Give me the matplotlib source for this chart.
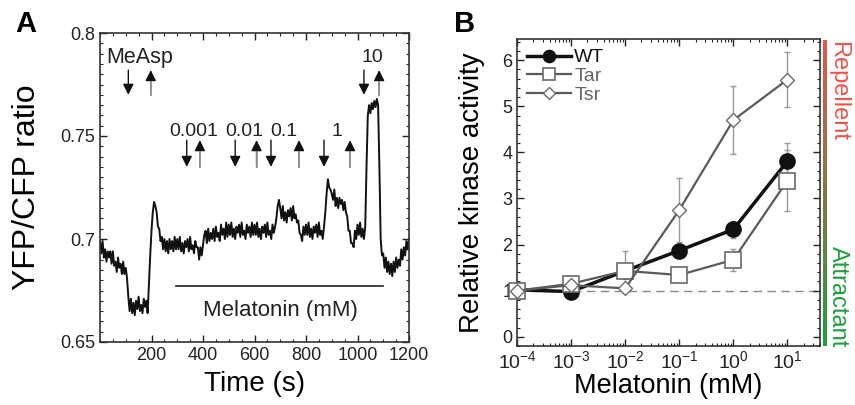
import numpy as np
import matplotlib
matplotlib.use('Agg')
import matplotlib.pyplot as plt
from matplotlib.ticker import MultipleLocator, LogLocator, NullFormatter
from matplotlib.colors import LinearSegmentedColormap

plt.rcParams['font.family'] = ['Liberation Sans', 'DejaVu Sans']
plt.rcParams['mathtext.fontset'] = 'custom'
plt.rcParams['mathtext.rm'] = 'Liberation Sans'
plt.rcParams['mathtext.it'] = 'Liberation Sans:italic'

# ---- panel A: FRET trace, one reading every 5 s ----
time_s = np.arange(0, 1201, 5)
ratio = [
    0.699, 0.693, 0.699, 0.691, 0.695, 0.689, 0.694, 0.691, 0.694, 0.688,
    0.694, 0.687, 0.689, 0.684, 0.691, 0.686, 0.688, 0.683, 0.689, 0.683,
    0.686, 0.681, 0.672, 0.665, 0.671, 0.664, 0.669, 0.663, 0.670, 0.666,
    0.672, 0.665, 0.668, 0.664, 0.671, 0.667, 0.670, 0.664, 0.678, 0.692,
    0.704, 0.713, 0.718, 0.716, 0.713, 0.706, 0.705, 0.699, 0.701, 0.695,
    0.700, 0.694, 0.699, 0.693, 0.700, 0.695, 0.699, 0.694, 0.701, 0.695,
    0.700, 0.695, 0.701, 0.694, 0.698, 0.693, 0.699, 0.696, 0.700, 0.694,
    0.701, 0.695, 0.697, 0.693, 0.699, 0.696, 0.696, 0.690, 0.696, 0.692,
    0.697, 0.702, 0.704, 0.698, 0.705, 0.699, 0.703, 0.700, 0.705, 0.699,
    0.706, 0.701, 0.703, 0.699, 0.707, 0.702, 0.705, 0.700, 0.708, 0.701,
    0.707, 0.702, 0.708, 0.701, 0.705, 0.700, 0.706, 0.703, 0.707, 0.701,
    0.708, 0.702, 0.704, 0.700, 0.707, 0.703, 0.706, 0.701, 0.708, 0.702,
    0.707, 0.702, 0.708, 0.701, 0.705, 0.700, 0.706, 0.703, 0.707, 0.701,
    0.708, 0.702, 0.704, 0.700, 0.707, 0.703, 0.706, 0.710, 0.716, 0.719,
    0.715, 0.710, 0.716, 0.709, 0.713, 0.708, 0.714, 0.711, 0.715, 0.709,
    0.716, 0.710, 0.712, 0.708, 0.709, 0.703, 0.702, 0.699, 0.706, 0.702,
    0.707, 0.702, 0.708, 0.701, 0.705, 0.700, 0.706, 0.703, 0.707, 0.701,
    0.708, 0.702, 0.704, 0.700, 0.706, 0.713, 0.722, 0.729, 0.725, 0.724,
    0.722, 0.719, 0.724, 0.716, 0.720, 0.715, 0.720, 0.717, 0.719, 0.714,
    0.718, 0.713, 0.711, 0.704, 0.704, 0.698, 0.698, 0.696, 0.704, 0.700,
    0.707, 0.702, 0.708, 0.701, 0.705, 0.700, 0.706, 0.735, 0.760, 0.765,
    0.761, 0.766, 0.763, 0.767, 0.764, 0.768, 0.765, 0.735, 0.700, 0.692,
    0.693, 0.686, 0.691, 0.684, 0.689, 0.683, 0.688, 0.682, 0.689, 0.684,
    0.691, 0.686, 0.690, 0.687, 0.695, 0.690, 0.696, 0.692, 0.699, 0.695,
    0.700,
]

# stimulus additions (down) and removals (up)
add_times = [110, 337, 525, 664, 870, 1025]
remove_times = [197, 388, 608, 773, 971, 1084]
dose_labels = ['MeAsp', '0.001', '0.01', '0.1', '1', '10']
dose_label_times = [155, 362, 561, 714, 922, 1059]

# ---- panel B: dose response ----
conc = [1e-4, 1e-3, 1e-2, 1e-1, 1, 10]
wt = [1.02, 0.98, 1.43, 1.87, 2.33, 3.81]
wt_err = [0, 0.04, 0.1, 0.1, 0.19, 0.39]
tar = [1.0, 1.15, 1.43, 1.34, 1.67, 3.39]
tar_err = [0, 0.05, 0.43, 0.13, 0.24, 0.67]
tsr = [1.0, 1.12, 1.05, 2.75, 4.70, 5.58]
tsr_err = [0, 0.05, 0.05, 0.69, 0.74, 0.60]

fig = plt.figure(figsize=(8.55, 4.05), dpi=100)
W, H = 855.0, 405.0

# ================= panel A =================
axA = fig.add_axes([100 / W, (H - 342) / H, 309 / W, 309 / H])
axA.plot(time_s, ratio, color='#111111', lw=1.4)
axA.set_xlim(0, 1200)
axA.set_ylim(0.65, 0.8)
axA.set_xticks([200, 400, 600, 800, 1000, 1200])
axA.xaxis.set_minor_locator(MultipleLocator(50))
axA.set_yticks([0.65, 0.7, 0.75, 0.8])
axA.set_yticklabels(['0.65', '0.7', '0.75', '0.8'])
axA.yaxis.set_minor_locator(MultipleLocator(0.005))
axA.set_xlabel('Time (s)', fontsize=20, labelpad=5)
axA.set_ylabel('YFP/CFP ratio', fontsize=23, labelpad=13)

for i in range(len(add_times)):
    if dose_labels[i] in ('MeAsp', '10'):
        hi, lo = 0.782, 0.770
        ly = 0.788
    else:
        hi, lo = 0.748, 0.735
        ly = 0.752
    # addition: black arrow pointing down
    axA.annotate('', xy=(add_times[i], lo), xytext=(add_times[i], hi),
                 arrowprops=dict(arrowstyle='-|>', fc='#111111', ec='#111111',
                                 lw=1.0, mutation_scale=16, shrinkA=0, shrinkB=0))
    # removal: grey shaft, black head pointing up
    axA.annotate('', xy=(remove_times[i], hi), xytext=(remove_times[i], lo),
                 arrowprops=dict(arrowstyle='-|>', fc='#111111', ec='#111111',
                                 lw=1.0, mutation_scale=16, shrinkA=0, shrinkB=0))
    axA.plot([remove_times[i], remove_times[i]], [lo, hi - 0.006],
             color='#999999', lw=1.3, zorder=5)
    fs = 15.5 if dose_labels[i] == 'MeAsp' else 14
    axA.text(dose_label_times[i], ly, dose_labels[i], ha='center', va='center',
             fontsize=fs, color='#222222')

axA.plot([294, 1100], [0.677, 0.677], color='#222222', lw=1.2)
axA.text(700, 0.6655, 'Melatonin (mM)', ha='center', va='center', fontsize=16,
         color='#222222')

# ================= panel B =================
axB = fig.add_axes([517 / W, (H - 346) / H, 303 / W, 307 / H])
axB.axhline(1, color='#888888', ls=(0, (6, 4)), lw=1, zorder=1)
axB.errorbar(conc, tsr, yerr=tsr_err, fmt='none', ecolor='#9a9a9a',
             elinewidth=1, capsize=2, zorder=2)
axB.errorbar(conc, tar, yerr=tar_err, fmt='none', ecolor='#9a9a9a',
             elinewidth=1, capsize=2, zorder=2)
axB.errorbar(conc, wt, yerr=wt_err, fmt='none', ecolor='#9a9a9a',
             elinewidth=1, capsize=2, zorder=2)
axB.plot(conc, wt, '-o', color='#111111', lw=2.5, ms=11, label='WT',
         zorder=4, clip_on=False)
axB.plot(conc, tar, '-s', color='#5a5a5a', mfc='white', mec='#6a6a6a', mew=1.2,
         lw=1.6, ms=11, label='Tar', zorder=5, clip_on=False)
axB.plot(conc, tsr, '-D', color='#5a5a5a', mfc='white', mec='#6a6a6a', mew=1.0,
         lw=1.6, ms=7.5, label='Tsr', zorder=6, clip_on=False)

axB.set_xscale('log')
axB.set_xlim(1e-4, 40)
axB.set_ylim(-0.2, 6.46)
axB.set_xticks([1e-4, 1e-3, 1e-2, 1e-1, 1, 10])
axB.set_xticklabels([r'$10^{-4}$', r'$10^{-3}$', r'$10^{-2}$', r'$10^{-1}$',
                     r'$10^{0}$', r'$10^{1}$'])
axB.xaxis.set_minor_locator(LogLocator(base=10, subs=np.arange(2, 10)))
axB.xaxis.set_minor_formatter(NullFormatter())
axB.set_yticks([0, 1, 2, 3, 4, 5, 6])
axB.yaxis.set_minor_locator(MultipleLocator(0.2))
axB.set_xlabel('Melatonin (mM)', fontsize=19.5, labelpad=1)
axB.set_ylabel('Relative kinase activity', fontsize=20, labelpad=12)

leg = axB.legend(loc='upper left', frameon=False, fontsize=14, handlelength=2.3,
                 handletextpad=0.15, labelspacing=0.05, borderaxespad=0.2,
                 borderpad=0.3, markerscale=0.8)
for txt, c in zip(leg.get_texts(), ['#111111', '#666666', '#666666']):
    txt.set_color(c)

for ax in (axA, axB):
    ax.tick_params(which='both', direction='in', top=True, right=True,
                   labelsize=13, colors='#222222')
    ax.tick_params(which='major', length=5, width=1)
    ax.tick_params(which='minor', length=2.5, width=0.8)
    for s in ax.spines.values():
        s.set_linewidth(1.2)
        s.set_color('#333333')
axB.tick_params(axis='x', labelsize=14, pad=3)

# repellent / attractant colour bar
cmap = LinearSegmentedColormap.from_list('ra', ['#e8564c', '#1f9e3c'])
axBar = fig.add_axes([823 / W, (H - 346) / H, 4 / W, 306 / H])
axBar.imshow(np.linspace(0, 1, 100).reshape(-1, 1), aspect='auto', cmap=cmap)
axBar.axis('off')
fig.text(838 / W, (H - 41) / H, 'Repellent', rotation=-90, ha='center', va='top',
         fontsize=17, color='#e8564c')
fig.text(838 / W, (H - 347) / H, 'Attractant', rotation=-90, ha='center',
         va='bottom', fontsize=17, color='#1f9e3c')

fig.text(26 / W, (H - 24) / H, 'A', fontsize=21, fontweight='bold', ha='center',
         va='center')
fig.text(465 / W, (H - 24) / H, 'B', fontsize=21, fontweight='bold', ha='center',
         va='center')

fig.savefig('out.png', dpi=100)
